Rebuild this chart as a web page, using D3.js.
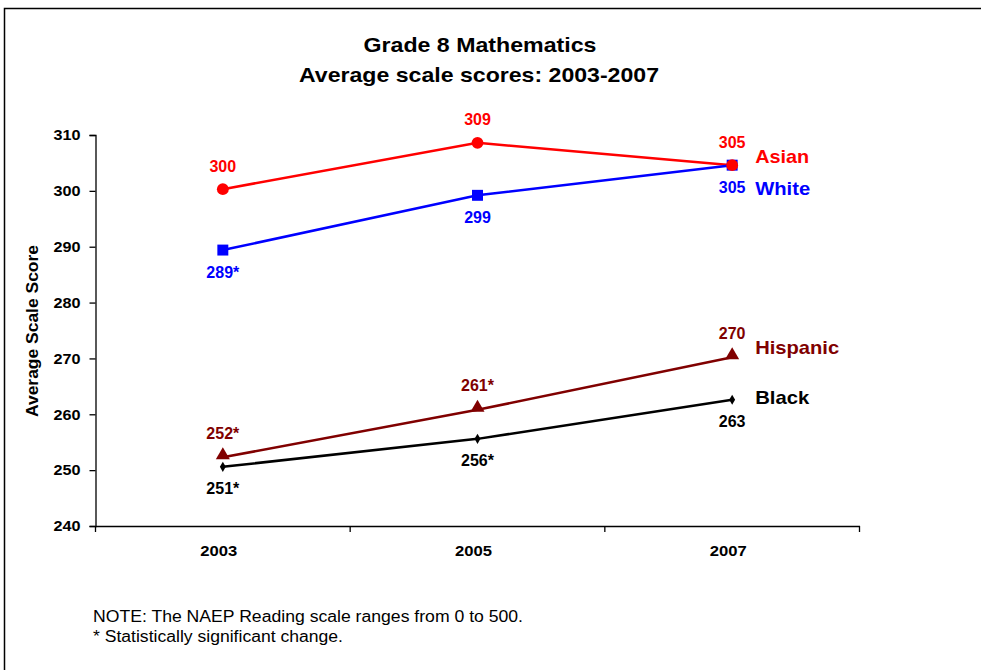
<!DOCTYPE html>
<html>
<head>
<meta charset="utf-8">
<script src="https://cdn.jsdelivr.net/npm/d3@7"></script>
<style>
  body { margin: 0; background: #fff; }
  text { font-family: "Liberation Sans", Arial, sans-serif; }
</style>
</head>
<body>
<div id="container"></div>
<script>
const years = ["2003", "2005", "2007"];
const yTicks = [240, 250, 260, 270, 280, 290, 300, 310];

const asian = [300.3, 308.6, 304.6];
const white = [289.4, 299.2, 304.6];
const hispanic = [252.3, 260.8, 270.2];
const black = [250.6, 255.6, 262.6];

const asianLabels = ["300", "309", "305"];
const whiteLabels = ["289*", "299", "305"];
const hispanicLabels = ["252*", "261*", "270"];
const blackLabels = ["251*", "256*", "263"];

const series = [
  { name: "Asian", values: asian, labels: asianLabels, color: "#ff0000", symbol: d3.symbolCircle, size: 110, dy: -23, nameDy: -9, nameLen: 54 },
  { name: "White", values: white, labels: whiteLabels, color: "#0000ff", symbol: d3.symbolSquare, size: 120, dy: 22, nameDy: 23, nameLen: 55 },
  { name: "Hispanic", values: hispanic, labels: hispanicLabels, color: "#800000", symbol: d3.symbolTriangle, size: 85, dy: -24, nameDy: -10, nameLen: 84 },
  { name: "Black", values: black, labels: blackLabels, color: "#000000", symbol: d3.symbolDiamond, size: 30, dy: 22, nameDy: -2, nameLen: 54 }
];

const width = 981, height = 670;
const svg = d3.select("#container").append("svg")
  .attr("width", width).attr("height", height);

// the original picture is a bit wide, so stretch the text to its width
const stretched = (sel, len) =>
  sel.attr("textLength", len).attr("lengthAdjust", "spacingAndGlyphs");

// outer frame
svg.append("rect")
  .attr("x", 4.5).attr("y", 8.5)
  .attr("width", 990).attr("height", 700)
  .attr("fill", "none").attr("stroke", "#000").attr("stroke-width", 1.5);

const x = d3.scaleBand().domain(years).range([95.5, 859.5]);
const y = d3.scaleLinear().domain([240, 310]).range([526, 135]);
const cx = (d) => x(d) + x.bandwidth() / 2;

// title
svg.append("text").attr("x", 480).attr("y", 52)
  .attr("text-anchor", "middle").attr("font-size", 21).attr("font-weight", "bold")
  .text("Grade 8 Mathematics").call(stretched, 233);
svg.append("text").attr("x", 479).attr("y", 82)
  .attr("text-anchor", "middle").attr("font-size", 21).attr("font-weight", "bold")
  .text("Average scale scores: 2003-2007").call(stretched, 360);

// axes
const yAxis = d3.axisLeft(y).tickValues(yTicks).tickSize(6).tickPadding(9);
const gy = svg.append("g").attr("transform", "translate(95.5,0)").call(yAxis);
gy.select(".domain").attr("stroke-width", 1.3);
gy.selectAll(".tick line").attr("stroke-width", 1.3);
gy.selectAll("text").attr("font-size", 15).attr("font-weight", "bold")
  .attr("fill", "#000").call(stretched, 27);

const xAxis = d3.axisBottom(x).tickSize(0).tickPadding(19);
const gx = svg.append("g").attr("transform", "translate(0,526)").call(xAxis);
gx.select(".domain").attr("stroke-width", 1.3);
gx.selectAll("text").attr("font-size", 15).attr("font-weight", "bold")
  .attr("fill", "#000").attr("dx", -4).call(stretched, 37);
// band-edge ticks
svg.append("g").selectAll("line")
  .data(x.domain().map((d) => x(d)).concat([x.range()[1]]))
  .enter().append("line")
  .attr("x1", (d) => d).attr("x2", (d) => d)
  .attr("y1", 526).attr("y2", 532)
  .attr("stroke", "#000").attr("stroke-width", 1.3);

// y axis title
svg.append("text")
  .attr("transform", "translate(38,331) rotate(-90)")
  .attr("text-anchor", "middle").attr("font-size", 16).attr("font-weight", "bold")
  .text("Average Scale Score").call(stretched, 172);

const line = d3.line().x((d, i) => cx(years[i])).y((d) => y(d));

series.forEach((s) => {
  svg.append("path").datum(s.values)
    .attr("d", line).attr("fill", "none")
    .attr("stroke", s.color).attr("stroke-width", 2.5);
});

// markers: white first so asian circle sits on top at 2007
[series[1], series[0], series[2], series[3]].forEach((s) => {
  svg.append("g").selectAll("path")
    .data(s.values).enter().append("path")
    .attr("d", d3.symbol().type(s.symbol).size(s.size))
    .attr("transform", (d, i) => `translate(${cx(years[i])},${y(d) + (s.symbol === d3.symbolTriangle ? -2 : 0)})`)
    .attr("fill", s.color);
});

series.forEach((s) => {
  svg.append("g").selectAll("text")
    .data(s.values).enter().append("text")
    .attr("x", (d, i) => cx(years[i]))
    .attr("y", (d) => y(d) + s.dy)
    .attr("dy", "0.35em")
    .attr("text-anchor", "middle")
    .attr("font-size", 16).attr("font-weight", "bold")
    .attr("fill", s.color)
    .text((d, i) => s.labels[i]);

  const last = s.values[s.values.length - 1];
  svg.append("text")
    .attr("x", cx(years[years.length - 1]) + 23)
    .attr("y", y(last) + s.nameDy)
    .attr("dy", "0.35em")
    .attr("font-size", 19).attr("font-weight", "bold")
    .attr("fill", s.color)
    .text(s.name).call(stretched, s.nameLen);
});

// notes
svg.append("text").attr("x", 93).attr("y", 622).attr("font-size", 16)
  .text("NOTE: The NAEP Reading scale ranges from 0 to 500.").call(stretched, 430);
svg.append("text").attr("x", 93).attr("y", 642).attr("font-size", 16)
  .text("* Statistically significant change.").call(stretched, 250);
</script>
</body>
</html>
